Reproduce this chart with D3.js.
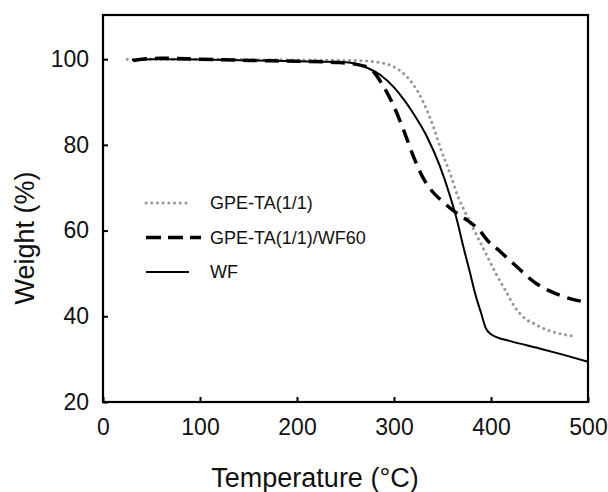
<!DOCTYPE html>
<html>
<head>
<meta charset="utf-8">
<script src="https://cdn.jsdelivr.net/npm/d3@7"></script>
<style>
  body { margin: 0; background: #fff; }
</style>
</head>
<body>
<svg id="chart"></svg>
<script>
// TGA curves: [temperature, weight]
const gpeTA = [[25,100],[60,100],[100,100],[150,99.9],[200,99.8],[250,99.7],[270,99.6],[285,99.2],[296,98.6],[305,97.5],[316,95.2],[325,92.3],[334,88],[341,84],[348,79.2],[358,73.2],[366,67.9],[374,64],[385,59],[395,54.5],[405,50],[415,46],[425,42],[435,39.5],[445,38.2],[458,36.8],[472,35.9],[487,35.3]];
const gpeTAWF60 = [[31,99.7],[40,100],[60,100.2],[100,100],[150,99.7],[200,99.5],[244,99.2],[265,98.6],[278,97.3],[286,94.8],[299,89.4],[310,83.4],[320,77.3],[330,72.3],[340,69],[350,66.8],[365,64],[375,62.5],[389,59.8],[396,57.8],[410,55],[423,52.3],[447,47.6],[471,44.9],[500,43.2]];
const wf = [[30,99.8],[50,100],[100,99.9],[150,99.7],[200,99.5],[250,99.3],[265,98.6],[275,97.7],[286,96.3],[300,93.4],[310,90.6],[320,87.3],[334,81.9],[347,75.2],[358,67.9],[366,61.5],[371.5,56.2],[378,50.5],[384,45],[390,40.6],[394.5,37.3],[400,35.8],[405,35.2],[420,34.2],[450,32.5],[475,31],[500,29.4]];

const seriesNames = ["GPE-TA(1/1)", "GPE-TA(1/1)/WF60", "WF"];
const xTicks = [0, 100, 200, 300, 400, 500];
const yTicks = [20, 40, 60, 80, 100];

const width = 608;
const height = 492;
const marginTop = 15;
const marginRight = 20;
const marginBottom = 90;
const marginLeft = 103;

const x = d3.scaleLinear()
    .domain([0, 500])
    .range([marginLeft, width - marginRight]);

const y = d3.scaleLinear()
    .domain([20, 110.3])
    .range([height - marginBottom, marginTop]);

const svg = d3.select("#chart")
    .attr("width", width)
    .attr("height", height)
    .attr("viewBox", [0, 0, width, height])
    .style("font-family", "'Liberation Sans', Arial, sans-serif");

// line styles
const styles = [
    {data: gpeTA, stroke: "#999", width: 3, dash: "0.1,5.6", cap: "round"},
    {data: gpeTAWF60, stroke: "#000", width: 3.5, dash: "14,8", cap: "butt"},
    {data: wf, stroke: "#000", width: 2, dash: null, cap: "butt"}
];

const line = d3.line()
    .x(d => x(d[0]))
    .y(d => y(d[1]))
    .curve(d3.curveMonotoneX);

svg.append("g")
    .attr("fill", "none")
  .selectAll("path")
  .data(styles)
  .join("path")
    .attr("stroke", d => d.stroke)
    .attr("stroke-width", d => d.width)
    .attr("stroke-dasharray", d => d.dash)
    .attr("stroke-linecap", d => d.cap)
    .attr("d", d => line(d.data));

// axes, ticks point inward
const xAxis = svg.append("g")
    .attr("transform", `translate(0,${height - marginBottom})`)
    .call(d3.axisBottom(x)
        .tickValues(xTicks)
        .tickSizeInner(-5)
        .tickSizeOuter(0)
        .tickPadding(17));

const yAxis = svg.append("g")
    .attr("transform", `translate(${marginLeft},0)`)
    .call(d3.axisLeft(y)
        .tickValues(yTicks)
        .tickSizeInner(-5)
        .tickSizeOuter(0)
        .tickPadding(14));

[xAxis, yAxis].forEach(g => {
    g.select(".domain").remove();
    g.selectAll(".tick line").attr("stroke", "#000").attr("stroke-width", 2);
    g.selectAll(".tick text")
        .attr("fill", "#111")
        .style("font-size", "23px")
        .style("font-family", "'Liberation Sans', Arial, sans-serif");
});

// frame
svg.append("rect")
    .attr("x", marginLeft)
    .attr("y", marginTop)
    .attr("width", width - marginLeft - marginRight)
    .attr("height", height - marginTop - marginBottom)
    .attr("fill", "none")
    .attr("stroke", "#000")
    .attr("stroke-width", 2.2);

// axis titles
svg.append("text")
    .attr("x", 315)
    .attr("y", 487)
    .attr("text-anchor", "middle")
    .attr("fill", "#111")
    .style("font-size", "27px")
    .text("Temperature (°C)");

svg.append("text")
    .attr("transform", "translate(34,238) rotate(-90)")
    .attr("text-anchor", "middle")
    .attr("fill", "#111")
    .style("font-size", "27px")
    .text("Weight (%)");

// legend
const legend = svg.append("g")
    .attr("transform", "translate(145,203)");

const legendRows = legend.selectAll("g")
  .data(styles)
  .join("g")
    .attr("transform", (d, i) => `translate(0,${i * 34.5})`);

legendRows.append("line")
    .attr("x1", 1)
    .attr("x2", (d, i) => i === 1 ? 56 : 44)
    .attr("stroke", d => d.stroke)
    .attr("stroke-width", d => d.width)
    .attr("stroke-dasharray", (d, i) => i === 1 ? "15,7" : d.dash)
    .attr("stroke-linecap", d => d.cap);

legendRows.append("text")
    .attr("x", 65)
    .attr("y", 6)
    .attr("fill", "#111")
    .style("font-size", "18px")
    .text((d, i) => seriesNames[i]);
</script>
</body>
</html>
